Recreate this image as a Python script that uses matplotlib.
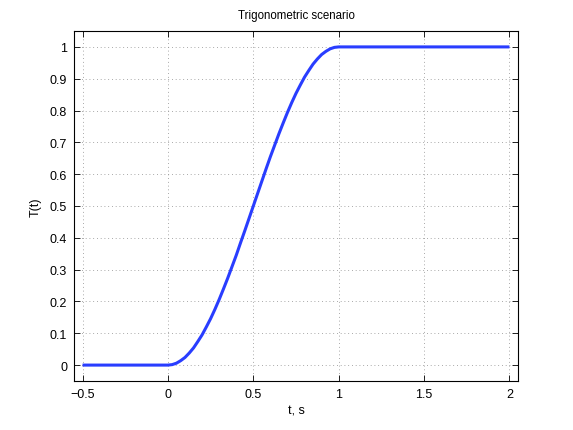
import matplotlib
matplotlib.use("Agg")
import matplotlib.pyplot as plt

t_vals = [-0.5, 0.0, 0.025, 0.05, 0.075, 0.1, 0.125, 0.15, 0.175, 0.2, 0.225, 0.25,
          0.275, 0.3, 0.325, 0.35, 0.375, 0.4, 0.425, 0.45, 0.475, 0.5,
          0.525, 0.55, 0.575, 0.6, 0.625, 0.65, 0.675, 0.7, 0.725, 0.75,
          0.775, 0.8, 0.825, 0.85, 0.875, 0.9, 0.925, 0.95, 0.975, 1.0, 2.0]
T_vals = [0.0, 0.0, 0.0015, 0.006, 0.014, 0.024, 0.038, 0.054, 0.074, 0.095, 0.12, 0.146,
          0.175, 0.206, 0.239, 0.273, 0.309, 0.345, 0.384, 0.422, 0.461, 0.5,
          0.539, 0.578, 0.617, 0.655, 0.691, 0.727, 0.761, 0.794, 0.825, 0.854,
          0.88, 0.905, 0.926, 0.946, 0.962, 0.976, 0.986, 0.994, 0.9985, 1.0, 1.0]
x_ticks = [-0.5, 0, 0.5, 1, 1.5, 2]
x_ticklabels = ["\u22120.5", "0", "0.5", "1", "1.5", "2"]
y_ticks = [0, 0.1, 0.2, 0.3, 0.4, 0.5, 0.6, 0.7, 0.8, 0.9, 1]
y_ticklabels = ["0", "0.1", "0.2", "0.3", "0.4", "0.5", "0.6", "0.7", "0.8", "0.9", "1"]

plt.rcParams['font.family'] = ['Liberation Sans', 'DejaVu Sans']
plt.rcParams['font.size'] = 9

fig = plt.figure(figsize=(5.73, 4.31), dpi=100)
ax = fig.add_axes([74/573, 1 - 382/431, (518 - 74)/573, (382 - 32)/431])
ax.plot(t_vals, T_vals, color=(0.16, 0.24, 1.0), linewidth=2.2, solid_capstyle='butt')
ax.set_xlim(-0.55, 2.05)
ax.set_ylim(-0.05, 1.05)
ax.set_xticks(x_ticks)
ax.set_xticklabels(x_ticklabels)
ax.set_yticks(y_ticks)
ax.set_yticklabels(y_ticklabels)
ax.tick_params(direction='in', top=True, right=True, length=4, width=0.6, pad=5)
ax.grid(True, color=(0.55, 0.55, 0.55), linestyle=(0, (1, 3.5)), linewidth=0.6)
for s in ax.spines.values():
    s.set_linewidth(0.8)
ax.set_title("Trigonometric scenario", fontsize=8.3, pad=9)
ax.set_xlabel("t, s", labelpad=3)
ax.set_ylabel("T(t)", labelpad=6)
fig.savefig("out.png", dpi=100)
